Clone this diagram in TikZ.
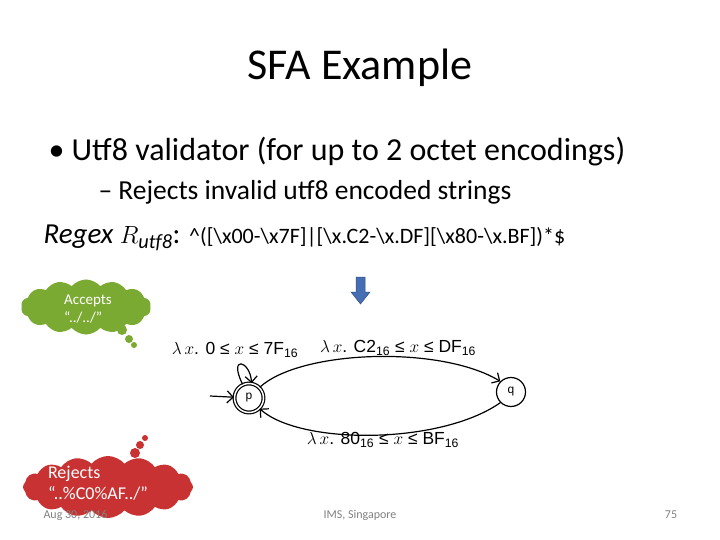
\documentclass[tikz,border=0pt]{standalone}
\usepackage{fontspec}
\setmainfont{Carlito}
\newfontfamily\arialf{Liberation Sans}
\usetikzlibrary{shapes.symbols,arrows.meta}
\definecolor{cgreen}{RGB}{122,170,50}
\definecolor{cred}{RGB}{200,50,50}
\definecolor{cblue}{RGB}{70,110,180}
\begin{document}
\begin{tikzpicture}[x=1pt,y=-1pt,
 state/.style={circle,draw,line width=1.2pt,minimum size=29pt,inner sep=0pt,font=\arialf\fontsize{12}{12}\selectfont},
 lbl/.style={font=\arialf\fontsize{17.5}{17.5}\selectfont},
 edge/.style={line width=1.2pt,-{Straight Barb[length=6pt]}},
 foot/.style={text=gray,font=\fontsize{12}{12}\selectfont}]
\useasboundingbox (0,0) rectangle (720,540);
\node (title) at (360,68) {\fontsize{44}{44}\selectfont SFA Example};
\node[anchor=west] (b1) at (45,152) {\fontsize{32}{32}\selectfont • Utf8 validator (for up to 2 octet encodings)};
\node[anchor=west] (b2) at (95,192) {\fontsize{27.5}{27.5}\selectfont – Rejects invalid utf8 encoded strings};
\node[anchor=west] (rx) at (40,238) {\fontsize{29}{29}\selectfont\itshape Regex $R_{\mathit{utf8}}$\upshape: {\fontsize{22}{22}\selectfont \^{}([\textbackslash x00-\textbackslash x7F]|[\textbackslash x.C2-\textbackslash x.DF][\textbackslash x80-\textbackslash x.BF])*\$}};
% arrow
\fill[cblue] (356,277) rectangle (365,292) -- (370,292) -- (360.5,304) -- (351,292) -- (356,292) -- cycle;
\draw[cblue!70!black,line width=0.5pt] (356,277) -- (365,277) -- (365,292) -- (370,292) -- (360.5,304) -- (351,292) -- (356,292) -- cycle;
% states
\node[state,double,double distance=1.5pt] (p) at (249,398) {p};
\node[state] (q) at (511,392) {q};
\coordinate (start) at (210,396);
\draw[edge] (start) -- (p);
\draw[edge] (p.115) .. controls (228,355) and (250,360) .. (p.80);
\draw[edge] (p.45) .. controls (300,350) and (440,345) .. (q.135);
\draw[edge] (q.-135) .. controls (440,445) and (300,445) .. (p.-45);
\node[lbl] (l1) at (235,350) {$\lambda\,x$. 0 ≤ $x$ ≤ 7F\textsubscript{16}};
\node[lbl] (l2) at (398,348) {$\lambda\,x$. C2\textsubscript{16} ≤ $x$ ≤ DF\textsubscript{16}};
\node[lbl] (l3) at (383,440) {$\lambda\,x$. 80\textsubscript{16} ≤ $x$ ≤ BF\textsubscript{16}};
% clouds
\node[cloud,cloud puffs=14,cloud puff arc=100,aspect=2.4,fill=cgreen,minimum width=130pt,minimum height=55pt] (gc) at (86,307) {};
\node[text=white,align=left,font=\fontsize{15}{18}\selectfont] (gt) at (88,309) {Accepts\\“../../”};
\fill[cgreen] (122,330) circle (5);
\fill[cgreen] (129,339) circle (4);
\fill[cgreen] (134,345) circle (3);
\node[cloud,cloud puffs=16,cloud puff arc=100,aspect=2.8,fill=cred,minimum width=170pt,minimum height=62pt] (rc) at (108,487) {};
\node[text=white,align=left,font=\fontsize{18}{21}\selectfont] (rt) at (98,483) {Rejects\\“..\%C0\%AF../”};
\fill[cred] (135,453) circle (5);
\fill[cred] (140,445) circle (4);
\fill[cred] (145,438) circle (3);
% footer
\node[foot,anchor=west] (f1) at (40,515) {Aug 30, 2016};
\node[foot] (f2) at (360,515) {IMS, Singapore};
\node[foot] (f3) at (671,515) {75};
\end{tikzpicture}
\end{document}
